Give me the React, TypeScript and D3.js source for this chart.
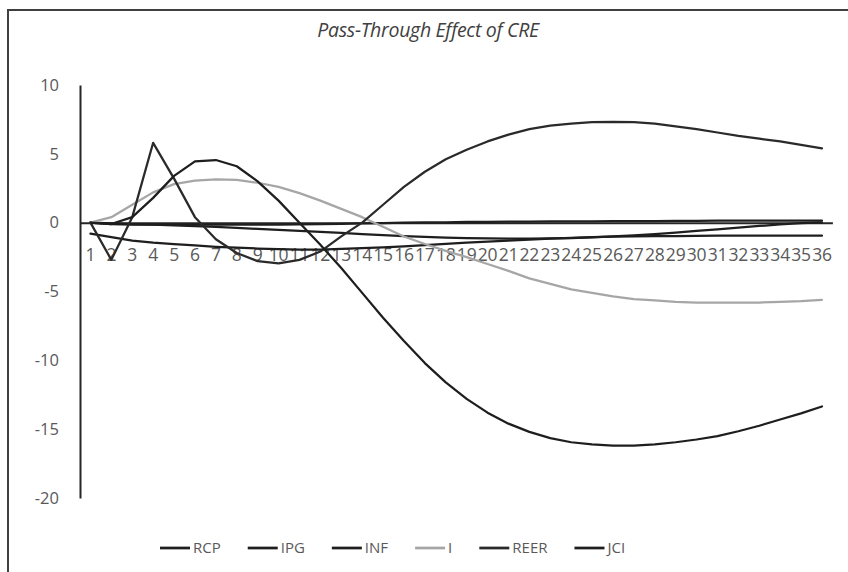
import React, { useEffect, useRef } from "react";
import * as d3 from "d3";

const periods = [1,2,3,4,5,6,7,8,9,10,11,12,13,14,15,16,17,18,19,20,21,22,23,24,25,26,27,28,29,30,31,32,33,34,35,36];

const RCP = [0,-0.1,-0.15,-0.15,-0.15,-0.15,-0.15,-0.15,-0.15,-0.15,-0.12,-0.1,-0.08,-0.05,-0.03,0,0.02,0.03,0.05,0.06,0.07,0.08,0.09,0.1,0.1,0.11,0.12,0.12,0.13,0.13,0.14,0.14,0.15,0.15,0.15,0.15];
const IPG = [-0.8,-1.05,-1.3,-1.45,-1.55,-1.65,-1.75,-1.82,-1.88,-1.92,-1.95,-1.95,-1.9,-1.85,-1.8,-1.72,-1.63,-1.54,-1.45,-1.37,-1.3,-1.23,-1.16,-1.1,-1.05,-1.02,-1.0,-0.98,-0.97,-0.96,-0.95,-0.95,-0.95,-0.95,-0.95,-0.95];
const INF = [0,-0.05,-0.1,-0.15,-0.2,-0.25,-0.3,-0.38,-0.45,-0.52,-0.6,-0.67,-0.75,-0.83,-0.9,-0.97,-1.03,-1.08,-1.12,-1.15,-1.16,-1.16,-1.15,-1.12,-1.07,-1.0,-0.92,-0.83,-0.72,-0.6,-0.48,-0.36,-0.24,-0.13,-0.04,0.03];
const I = [0,0.4,1.3,2.2,2.8,3.05,3.15,3.1,2.9,2.6,2.15,1.6,1.0,0.4,-0.3,-1.0,-1.55,-2.05,-2.5,-3.0,-3.5,-4.05,-4.45,-4.85,-5.1,-5.35,-5.55,-5.65,-5.75,-5.8,-5.8,-5.8,-5.8,-5.75,-5.7,-5.6];
const REER = [0,-2.7,0.4,5.8,3.2,0.4,-1.2,-2.2,-2.8,-2.95,-2.7,-2.1,-1.0,0.0,1.3,2.6,3.7,4.6,5.3,5.9,6.4,6.8,7.05,7.2,7.3,7.32,7.3,7.2,7.0,6.8,6.55,6.3,6.1,5.9,5.65,5.4];
const JCI = [0,-0.1,0.4,1.8,3.4,4.45,4.55,4.1,3.0,1.6,0.0,-1.6,-3.3,-5.1,-6.9,-8.6,-10.2,-11.6,-12.8,-13.8,-14.6,-15.2,-15.65,-15.95,-16.1,-16.2,-16.2,-16.1,-15.95,-15.75,-15.5,-15.15,-14.75,-14.3,-13.85,-13.35];

const seriesNames = ["RCP", "IPG", "INF", "I", "REER", "JCI"];
const seriesValues = [RCP, IPG, INF, I, REER, JCI];
const seriesColors = ["#1e1e1e", "#1e1e1e", "#1e1e1e", "#a6a6a6", "#2a2a2a", "#1e1e1e"];
const yTicks = [10, 5, 0, -5, -10, -15, -20];
const title = "Pass-Through Effect of CRE";

const W = 848;
const H = 572;
const FONT = "'Open Sans', 'DejaVu Sans', sans-serif";

export default function App() {
  const ref = useRef<SVGSVGElement | null>(null);

  useEffect(() => {
    const svg = d3.select(ref.current);
    svg.selectAll("*").remove();

    const left = 80;
    const band = 20.9;
    const x = d3.scaleBand<string>()
      .domain(periods.map(String))
      .range([left, left + band * periods.length])
      .padding(0);
    const px = (p: number) => (x(String(p)) as number) + x.bandwidth() / 2;
    const y = d3.scaleLinear().domain([-20, 10]).range([498, 85]);

    // chart frame
    svg.append("rect")
      .attr("x", 8).attr("y", 10)
      .attr("width", 900).attr("height", 700)
      .attr("fill", "#fff")
      .attr("stroke", "#404040").attr("stroke-width", 2);

    // title
    svg.append("text")
      .attr("x", 428).attr("y", 37)
      .attr("text-anchor", "middle")
      .attr("font-family", FONT).attr("font-style", "italic")
      .attr("font-size", 19.5).attr("fill", "#404040")
      .attr("letter-spacing", -0.3)
      .text(title);

    // y axis
    const yAxis = d3.axisLeft(y).tickValues(yTicks).tickFormat((d) => String(d))
      .tickSize(0).tickSizeOuter(0).tickPadding(21);
    const gy = svg.append("g").attr("transform", `translate(${left},0)`).call(yAxis);
    gy.select(".domain").attr("stroke", "#262626").attr("stroke-width", 2);
    gy.selectAll("text").attr("font-family", FONT).attr("font-size", 16.5).attr("fill", "#595959");

    // x axis at zero
    const xAxis = d3.axisBottom(x).tickSize(0).tickSizeOuter(0).tickPadding(26);
    const gx = svg.append("g").attr("transform", `translate(0,${y(0)})`).call(xAxis);
    gx.select(".domain").attr("stroke", "#262626").attr("stroke-width", 2);
    gx.selectAll("text").attr("font-family", FONT).attr("font-size", 17.5).attr("fill", "#595959")
      .attr("letter-spacing", -0.2);

    // series
    const line = d3.line<number>()
      .x((_, i) => px(periods[i]))
      .y((v) => y(v));
    seriesValues.forEach((vals, k) => {
      svg.append("path")
        .datum(vals)
        .attr("d", line)
        .attr("fill", "none")
        .attr("stroke", seriesColors[k])
        .attr("stroke-width", 2.25)
        .attr("stroke-linejoin", "round")
        .attr("stroke-linecap", "round");
    });

    // legend
    const lg = svg.append("g");
    let cx = 160;
    const ly = 548;
    seriesNames.forEach((name, k) => {
      lg.append("line")
        .attr("x1", cx).attr("x2", cx + 30)
        .attr("y1", ly).attr("y2", ly)
        .attr("stroke", seriesColors[k]).attr("stroke-width", 2.75);
      const t = lg.append("text")
        .attr("x", cx + 33).attr("y", ly + 5)
        .attr("font-family", FONT).attr("font-size", 15).attr("fill", "#595959")
        .text(name);
      const tw = (t.node() as SVGTextElement).getComputedTextLength();
      cx = cx + 33 + tw + 27;
    });
  }, []);

  return (
    <svg
      ref={ref}
      width={W}
      height={H}
      style={{ position: "absolute", left: 0, top: 0, background: "#fff" }}
    />
  );
}
